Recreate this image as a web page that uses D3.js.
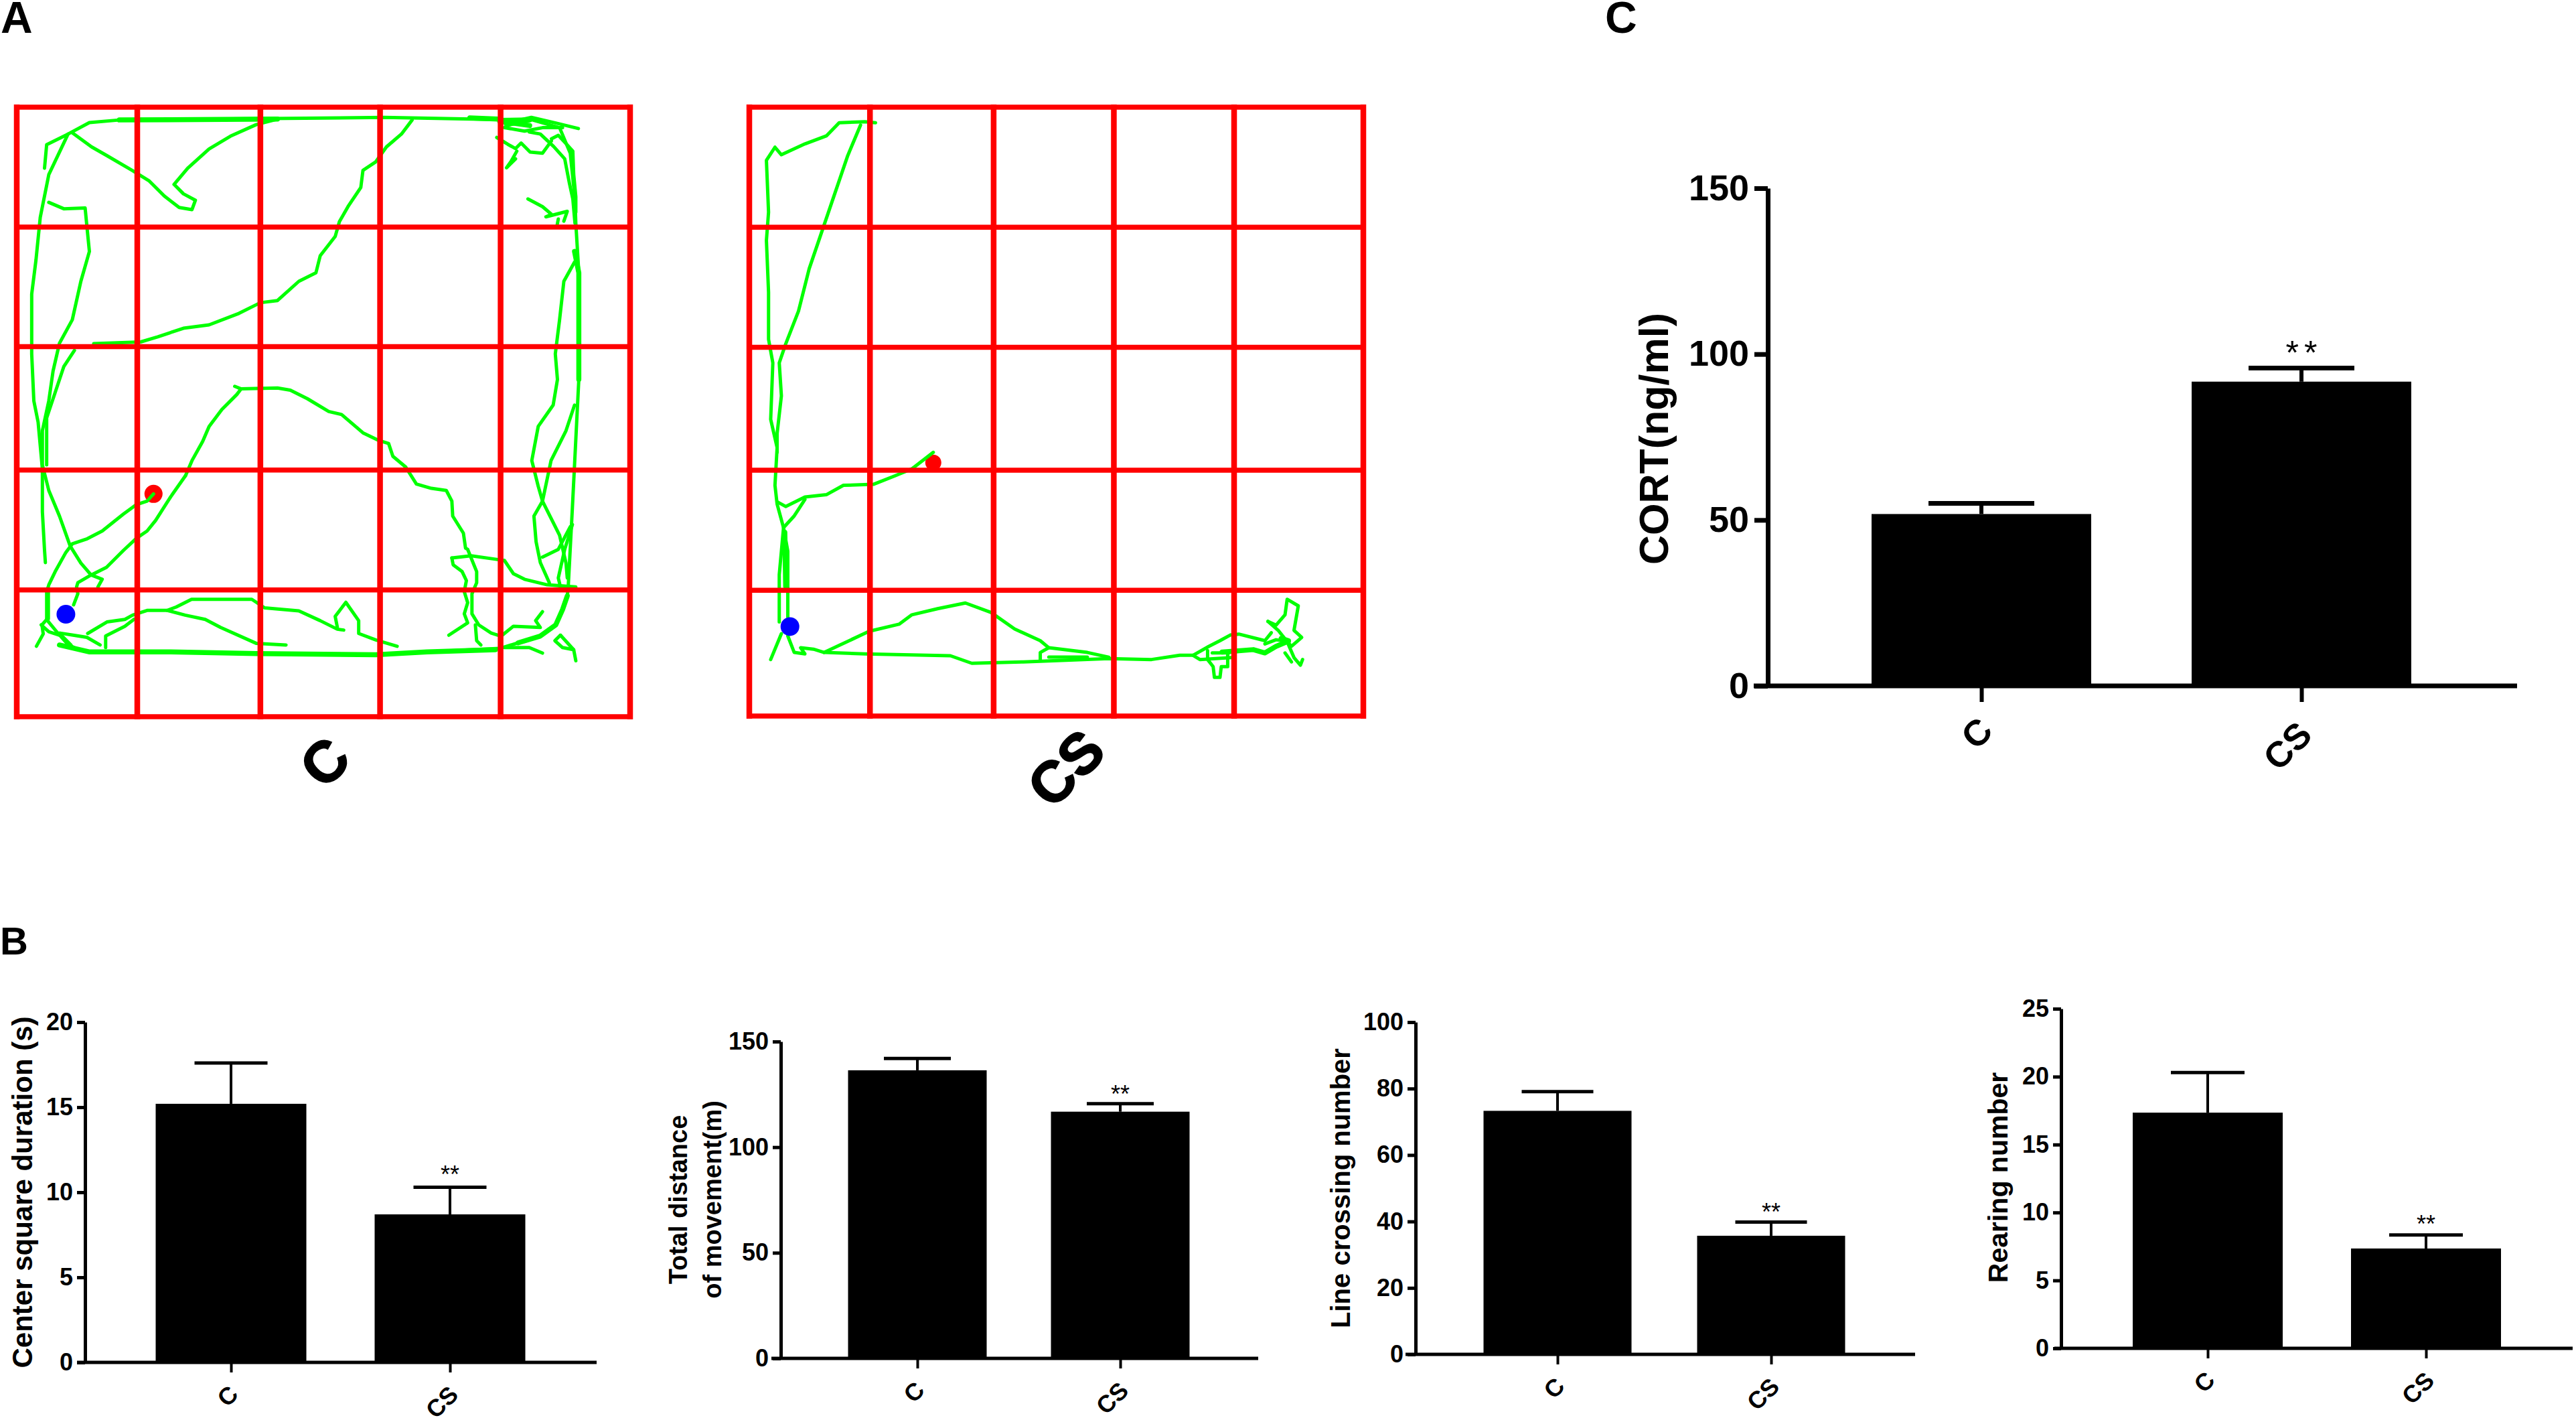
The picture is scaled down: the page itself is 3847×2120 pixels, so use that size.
<!DOCTYPE html>
<html>
<head>
<meta charset="utf-8">
<script src="https://cdnjs.cloudflare.com/ajax/libs/d3/7.8.5/d3.min.js"></script>
<style>
  html, body { margin: 0; padding: 0; background: #fff; }
  svg { display: block; }
  text { font-family: "Liberation Sans", Arial, sans-serif; font-weight: bold; fill: #000; }
  .star { font-weight: normal; }
</style>
</head>
<body>
<svg id="fig" width="3847" height="2120"></svg>
<script>
const groups = ['C', 'CS'];

// bar heights and top of the error bar
const cortMeans = [51.8, 91.7];
const cortTops = [55, 95.8];
const cortTicks = [0, 50, 100, 150];

const centerMeans = [15.2, 8.7];
const centerTops = [17.6, 10.3];
const centerTicks = [0, 5, 10, 15, 20];

const distanceMeans = [136.4, 116.8];
const distanceTops = [142, 120.6];
const distanceTicks = [0, 50, 100, 150];

const crossingMeans = [73.3, 35.7];
const crossingTops = [79.1, 39.8];
const crossingTicks = [0, 20, 40, 60, 80, 100];

const rearingMeans = [17.35, 7.35];
const rearingTops = [20.3, 8.35];
const rearingTicks = [0, 5, 10, 15, 20, 25];

// open field grid lines and paths, in tracker units
const controlGridX = [40, 322, 610, 890, 1172, 1475];
const controlGridY = [62, 343, 623, 912, 1193, 1490];
const stressGridX = [60, 342, 631, 912, 1193, 1495];
const stressGridY = [57, 312, 567, 828, 1083, 1350];

const controlStart = [155, 1250];
const controlEnd = [360, 968];
const stressStart = [155, 1160];
const stressEnd = [490, 812];

const controlTracks = [
  [[360,968],[345,985],[320,993],[290,1015],[240,1055],[205,1073],[170,1085],[155,1105],[130,1150],[115,1181],[112,1192],[112,1260],[99,1275],[102,1296],[86,1325]],
  [[435,925],[400,975],[365,1030],[345,1055],[320,1072],[290,1100],[250,1140],[214,1158],[183,1176],[180,1186],[183,1202],[173,1228]],
  [[214,1158],[240,1168],[230,1186]],
  [[435,925],[450,890],[475,845],[490,810],[520,770],[555,735],[565,722],[550,716]],
  [[565,722],[650,720],[680,725],[720,745],[770,775],[800,782],[850,825],[885,842],[910,850],[920,880],[950,905],[975,945],[1010,955],[1045,960],[1058,985],[1060,1020],[1085,1060],[1090,1095],[1095,1098],[1116,1150],[1116,1176],[1105,1202],[1105,1249],[1121,1275],[1150,1294],[1166,1299],[1176,1299],[1202,1278],[1265,1281],[1254,1265],[1270,1244]],
  [[1113,1275],[1116,1312],[1126,1322]],
  [[1058,1118],[1061,1134],[1082,1150],[1092,1171],[1087,1197],[1095,1223],[1087,1249],[1095,1270],[1051,1299]],
  [[1058,1118],[1103,1113],[1160,1121],[1181,1124],[1202,1155],[1228,1168],[1281,1181],[1348,1186]],
  [[112,1265],[131,1288],[159,1320],[178,1330],[209,1338],[400,1338],[600,1342],[880,1345],[1000,1338],[1170,1330],[1213,1317],[1265,1301],[1301,1275],[1317,1239],[1328,1207],[1330,1190],[1340,1000],[1345,900],[1355,700],[1355,450],[1348,334],[1346,277],[1335,170],[1310,110],[1240,90],[1166,91],[900,86],[500,90],[280,92],[210,98],[160,125],[110,150],[105,205]],
  [[160,125],[115,220],[95,320],[85,420],[75,500],[75,640],[80,750],[90,800],[100,910],[100,1010],[105,1100],[107,1129]],
  [[115,285],[150,300],[200,298],[205,350],[210,400],[190,470],[170,560],[140,615],[125,680],[115,750],[100,820],[100,900],[115,960],[140,1020],[165,1090],[190,1130],[214,1158]],
  [[175,632],[150,670],[130,730],[110,790],[110,900]],
  [[170,122],[215,155],[250,175],[310,210],[350,235],[385,270],[420,297],[450,302],[458,280],[430,265],[408,243],[440,205],[490,160],[540,130],[600,103],[650,90]],
  [[965,92],[940,125],[905,155],[880,190],[850,210],[845,250],[815,295],[795,330],[785,365],[750,410],[740,450],[700,470],[650,515],[610,520],[560,545],[490,572],[430,580],[370,600],[330,612],[220,616]],
  [[1345,425],[1320,470],[1310,560],[1300,640],[1305,700],[1295,760],[1260,810],[1245,890],[1260,950],[1270,985],[1310,1065],[1325,1130],[1328,1165]],
  [[1345,760],[1325,820],[1290,890],[1270,985],[1250,1020],[1255,1080],[1265,1129],[1286,1176]],
  [[1270,1116],[1307,1098],[1335,1045]],
  [[1340,1040],[1322,1098],[1307,1165],[1312,1186]],
  // top right corner
  [[1186,99],[1244,86],[1301,99],[1354,112]],
  [[1181,110],[1228,118],[1270,110],[1317,110]],
  [[1239,120],[1265,125],[1296,154],[1322,183],[1327,209],[1333,240],[1341,277],[1346,334]],
  [[1291,136],[1307,128],[1322,144],[1341,165],[1343,219],[1348,272],[1348,308]],
  [[1163,133],[1189,149],[1207,159],[1220,146],[1241,167],[1270,170],[1291,141]],
  [[1210,165],[1197,188],[1186,204],[1207,183]],
  [[1236,277],[1270,295],[1291,313],[1278,319],[1328,306],[1320,329]],
  [[1307,324],[1304,340]],
  // bottom left corner
  [[97,1275],[115,1291],[146,1301],[167,1322]],
  [[141,1294],[172,1299],[204,1304],[235,1322]],
  [[206,1295],[251,1268],[293,1262],[311,1252],[345,1241],[392,1241],[434,1252],[481,1262],[517,1281],[600,1318],[670,1322]],
  [[392,1241],[413,1233],[449,1215],[590,1215],[620,1235],[700,1242],[750,1265],[790,1285],[805,1287]],
  [[248,1328],[248,1301],[293,1278],[314,1262]],
  [[790,1280],[785,1255],[810,1222],[840,1265],[840,1295],[880,1310],[930,1325]],
  // bottom right corner
  [[1181,1328],[1239,1328],[1270,1341]],
  [[1312,1299],[1299,1312],[1317,1328],[1343,1333],[1348,1359]],
  [[1312,1299],[1343,1333]]
];

// stretches the animal went over many times, drawn heavier
const controlDense = [
  [[140,1322],[209,1338],[400,1338],[600,1342],[880,1345],[1000,1338],[1160,1333]],
  [[1170,95],[1240,105]],
  [[1186,103],[1240,92]],
  [[280,92],[650,90]],
  [[1100,87],[1166,90]],
  [[1345,400],[1355,450],[1355,700]],
  [[112,1192],[112,1260]],
  [[1213,1317],[1265,1301],[1301,1275],[1317,1239],[1328,1207]]
];

const stressTracks = [
  [[355,90],[330,88],[270,90],[240,118],[190,135],[135,158],[120,142],[100,170],[105,280],[100,340],[105,450],[105,550],[115,600],[110,720],[125,780],[120,860],[125,900],[140,950],[135,1000],[130,1050],[130,1150]],
  [[320,95],[290,160],[260,240],[230,320],[200,400],[175,490],[145,560],[130,600],[135,670],[125,750],[125,790]],
  [[490,790],[440,825],[400,840],[350,858],[280,860],[240,880],[190,885],[145,905],[125,895]],
  [[190,890],[165,925],[140,950],[150,1000],[150,1080],[150,1140]],
  [[135,1175],[110,1230]],
  [[150,1180],[165,1215],[190,1218],[180,1205],[210,1208],[235,1215],[330,1218],[530,1222],[580,1238],[700,1235],[900,1228],[1000,1230],[1066,1221],[1097,1221],[1113,1230],[1186,1226]],
  [[235,1215],[270,1200],[340,1170],[410,1155],[440,1135],[500,1122],[565,1110],[625,1130],[680,1165],[740,1190],[760,1205],[850,1215],[900,1225]],
  [[760,1205],[740,1215],[740,1232]],
  [[850,1225],[760,1225]],
  [[1097,1221],[1134,1202],[1160,1190],[1184,1178],[1204,1176],[1265,1190],[1280,1173]],
  [[1131,1211],[1131,1230],[1144,1245],[1147,1268],[1160,1268],[1163,1245],[1178,1245],[1178,1216]],
  [[1142,1216],[1181,1216]],
  [[1265,1197],[1291,1188],[1322,1192]],
  [[1272,1149],[1291,1157],[1312,1135],[1317,1102],[1343,1116],[1333,1168],[1351,1183],[1327,1202],[1317,1192]],
  [[1272,1149],[1296,1168],[1317,1192],[1333,1226],[1348,1242],[1353,1230]],
  [[1312,1216],[1327,1235]]
];

const stressDense = [
  [[143,960],[145,1075]],
  [[1165,1214],[1238,1209],[1265,1216],[1291,1202],[1317,1192]],
  [[1303,1185],[1320,1190]]
];

const svg = d3.select('#fig');

function translate(x, y) {
  return `translate(${x}, ${y})`;
}

function drawArena(gridX, gridY, tracks, dense, start, end, box) {
  const x = d3.scaleLinear().domain([gridX[0], gridX[5]]).range([box.left, box.right]);
  const y = d3.scaleLinear().domain([gridY[0], gridY[5]]).range([box.top, box.bottom]);
  const g = svg.append('g');
  const line = d3.line().x(d => x(d[0])).y(d => y(d[1])).curve(d3.curveLinear);

  g.append('circle').attr('cx', x(end[0])).attr('cy', y(end[1])).attr('r', box.endR).attr('fill', '#ff0000');
  g.selectAll('.track').data(tracks).enter().append('path')
    .attr('d', line).attr('fill', 'none')
    .attr('stroke', '#00ff00').attr('stroke-width', 5)
    .attr('stroke-linejoin', 'round').attr('stroke-linecap', 'round');
  g.selectAll('.dense').data(dense).enter().append('path')
    .attr('d', line).attr('fill', 'none')
    .attr('stroke', '#00ff00').attr('stroke-width', 7.5)
    .attr('stroke-linejoin', 'round').attr('stroke-linecap', 'round');
  g.append('circle').attr('cx', x(start[0])).attr('cy', y(start[1])).attr('r', 14).attr('fill', '#0000ff');

  // the red grid lies over the track
  g.selectAll('.v').data(gridX).enter().append('line')
    .attr('x1', d => x(d)).attr('x2', d => x(d))
    .attr('y1', box.top - 4).attr('y2', box.bottom + 4)
    .attr('stroke', '#ff0000').attr('stroke-width', 8.5);
  g.selectAll('.h').data(gridY).enter().append('line')
    .attr('y1', d => y(d)).attr('y2', d => y(d))
    .attr('x1', box.left - 4).attr('x2', box.right + 4)
    .attr('stroke', '#ff0000').attr('stroke-width', 7.5);

  svg.append('text')
    .attr('transform', translate(box.labelX, box.labelY) + ' rotate(-45)')
    .attr('text-anchor', 'middle').attr('dy', '.36em')
    .attr('font-size', 86).attr('stroke', '#000').attr('stroke-width', 2)
    .text(box.label);
}

function drawBars(means, tops, ticks, title, box) {
  const y = d3.scaleLinear().domain([0, d3.max(ticks)]).range([box.y0, box.yTop]);
  const x = d3.scalePoint().domain(groups).range(box.centers);
  const g = svg.append('g');

  // error bars sit behind the bars
  g.selectAll('.stem').data(groups).enter().append('line')
    .attr('x1', d => x(d)).attr('x2', d => x(d))
    .attr('y1', (d, i) => y(means[i])).attr('y2', (d, i) => y(tops[i]))
    .attr('stroke', '#000').attr('stroke-width', box.stem);
  g.selectAll('.cap').data(groups).enter().append('line')
    .attr('x1', d => x(d) - box.cap / 2).attr('x2', d => x(d) + box.cap / 2)
    .attr('y1', (d, i) => y(tops[i])).attr('y2', (d, i) => y(tops[i]))
    .attr('stroke', '#000').attr('stroke-width', box.capStroke);
  g.selectAll('.bar').data(groups).enter().append('rect')
    .attr('x', d => x(d) - box.barW / 2)
    .attr('width', box.barW)
    .attr('y', (d, i) => y(means[i]))
    .attr('height', (d, i) => box.y0 - y(means[i]))
    .attr('fill', '#000');

  const yAxis = g.append('g')
    .attr('transform', translate(box.axisX, 0))
    .call(d3.axisLeft(y).tickValues(ticks).tickSize(box.tick).tickSizeOuter(0).tickPadding(box.tickPad));
  yAxis.select('.domain').attr('stroke', '#000').attr('stroke-width', box.axisW);
  yAxis.selectAll('.tick line').attr('stroke', '#000').attr('stroke-width', box.axisW);
  yAxis.selectAll('.tick text').attr('font-size', box.tickFont).attr('font-family', null);

  const xAxis = g.append('g')
    .attr('transform', translate(0, box.y0))
    .call(d3.axisBottom(x).tickSize(box.xTick).tickSizeOuter(0));
  xAxis.select('.domain').remove();
  xAxis.selectAll('.tick line').attr('stroke', '#000').attr('stroke-width', box.stem).attr('stroke-opacity', 1);
  xAxis.selectAll('.tick text')
    .attr('font-size', box.tickFont).attr('font-family', null)
    .attr('y', 0).attr('dy', '.36em').attr('text-anchor', 'middle')
    .attr('transform', (d, i) => translate(box.labelDx[i], box.labelDy[i]) + ' rotate(-45)');

  g.append('line')
    .attr('x1', box.baseFrom).attr('x2', box.baseTo)
    .attr('y1', box.y0).attr('y2', box.y0)
    .attr('stroke', '#000').attr('stroke-width', box.axisW);

  title.forEach((t, i) => {
    g.append('text')
      .attr('transform', translate(box.titleX[i], box.titleY) + ' rotate(-90)')
      .attr('text-anchor', 'middle').attr('dy', '.36em')
      .attr('font-size', box.titleFont)
      .text(t);
  });

  g.append('text').attr('class', 'star')
    .attr('x', x('CS') + box.starGap / 2).attr('y', box.starY)
    .attr('text-anchor', 'middle')
    .attr('font-size', box.starFont)
    .attr('letter-spacing', box.starGap)
    .text('**');
}

// panel letters
[['A', 1, 49, 66], ['B', 0, 1425, 58], ['C', 2397, 49, 66]].forEach(d => {
  svg.append('text').attr('x', d[1]).attr('y', d[2]).attr('font-size', d[3]).text(d[0]);
});

drawArena(controlGridX, controlGridY, controlTracks, controlDense, controlStart, controlEnd,
  { left: 25, right: 941, top: 160, bottom: 1070, endR: 13.5, label: 'C', labelX: 484, labelY: 1137 });
drawArena(stressGridX, stressGridY, stressTracks, stressDense, stressStart, stressEnd,
  { left: 1119, right: 2036, top: 160, bottom: 1069, endR: 12, label: 'CS', labelX: 1591, labelY: 1146 });

drawBars(cortMeans, cortTops, cortTicks, ['CORT(ng/ml)'], {
  y0: 1024, yTop: 281, centers: [2959, 3437], barW: 328, axisX: 2640, tick: 20, tickPad: 8,
  tickFont: 54, axisW: 7, stem: 6, cap: 158, capStroke: 7, xTick: 24,
  labelDx: [-8, -22], labelDy: [70, 89],
  baseFrom: 2619, baseTo: 3759, titleX: [2469], titleY: 655, titleFont: 61, starY: 544, starFont: 50, starGap: 8
});
drawBars(centerMeans, centerTops, centerTicks, ['Center square duration (s)'], {
  y0: 2034, yTop: 1526, centers: [345, 672], barW: 225, axisX: 127, tick: 12, tickPad: 6,
  tickFont: 36, axisW: 5, stem: 4, cap: 109, capStroke: 5, xTick: 15,
  labelDx: [-6, -13], labelDy: [50, 59],
  baseFrom: 115, baseTo: 891, titleX: [33], titleY: 1780, titleFont: 42, starY: 1766, starFont: 36, starGap: 0
});
drawBars(distanceMeans, distanceTops, distanceTicks, ['Total distance', 'of movement(m)'], {
  y0: 2028, yTop: 1555, centers: [1370, 1673], barW: 207, axisX: 1166, tick: 12, tickPad: 6,
  tickFont: 36, axisW: 5, stem: 4, cap: 100, capStroke: 5, xTick: 15,
  labelDx: [-6, -13], labelDy: [50, 59],
  baseFrom: 1152, baseTo: 1879, titleX: [1012, 1063], titleY: 1791, titleFont: 38, starY: 1646, starFont: 36, starGap: 0
});
drawBars(crossingMeans, crossingTops, crossingTicks, ['Line crossing number'], {
  y0: 2022, yTop: 1526, centers: [2326, 2645], barW: 221, axisX: 2114, tick: 12, tickPad: 6,
  tickFont: 36, axisW: 5, stem: 4, cap: 107, capStroke: 5, xTick: 15,
  labelDx: [-6, -13], labelDy: [50, 59],
  baseFrom: 2099, baseTo: 2860, titleX: [2002], titleY: 1774, titleFont: 40, starY: 1822, starFont: 36, starGap: 0
});
drawBars(rearingMeans, rearingTops, rearingTicks, ['Rearing number'], {
  y0: 2013, yTop: 1506, centers: [3297, 3623], barW: 224, axisX: 3078, tick: 12, tickPad: 6,
  tickFont: 36, axisW: 5, stem: 4, cap: 110, capStroke: 5, xTick: 15,
  labelDx: [-6, -13], labelDy: [50, 59],
  baseFrom: 3068, baseTo: 3842, titleX: [2983], titleY: 1758, titleFont: 41, starY: 1840, starFont: 36, starGap: 0
});
</script>
</body>
</html>
